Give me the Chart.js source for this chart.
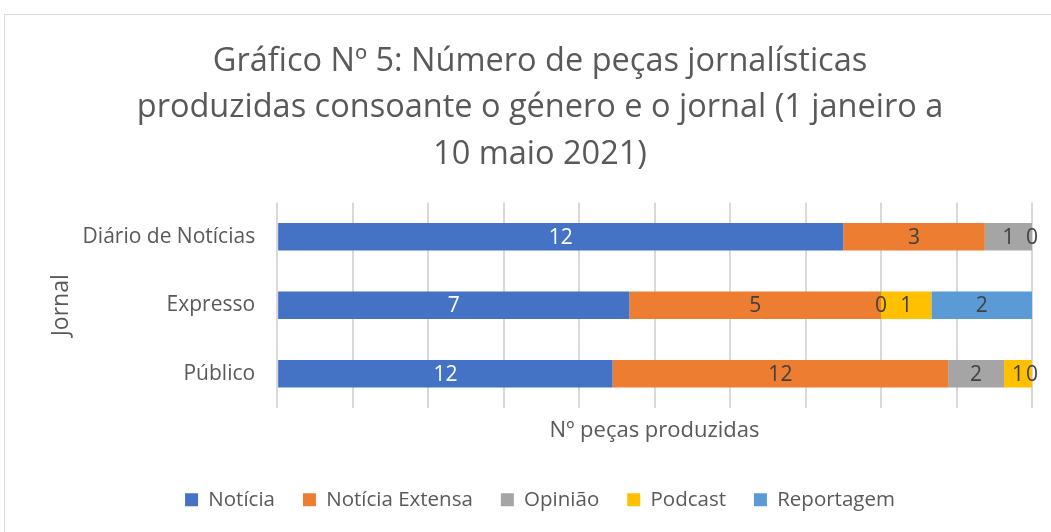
<!DOCTYPE html>
<html lang="pt">
<head>
    <meta charset="UTF-8">
    <title>Gráfico Nº 5</title>
    <script src="https://cdn.jsdelivr.net/npm/chart.js@4.4.0/dist/chart.umd.min.js"></script>
    <style>
        html, body {
            margin: 0;
            padding: 0;
            background: white;
        }
        .chart-container {
            position: relative;
            width: 1051px;
            height: 532px;
        }
    </style>
</head>
<body>
    <div class="chart-container">
        <canvas id="pecasChart"></canvas>
    </div>

    <script>
        const jornais = ['Diário de Notícias', 'Expresso', 'Público'];
        const generos = ['Notícia', 'Notícia Extensa', 'Opinião', 'Podcast', 'Reportagem'];

        // contagens por género (ordem: Diário de Notícias, Expresso, Público)
        const noticia = [12, 7, 12];
        const noticiaExtensa = [3, 5, 12];
        const opiniao = [1, 0, 2];
        const podcast = [0, 1, 1];
        const reportagem = [null, 2, 0];

        const cores = ['#4472C4', '#ED7D31', '#A5A5A5', '#FFC000', '#5B9BD5'];
        const series = [noticia, noticiaExtensa, opiniao, podcast, reportagem];

        const totais = jornais.map((_, i) => series.reduce((s, arr) => s + (arr[i] || 0), 0));

        const textFont = "'Open Sans', 'Noto Sans', sans-serif";
        const textColor = '#595959';

        // frame round the chart
        const framePlugin = {
            id: 'frame',
            beforeDraw(chart) {
                const ctx = chart.ctx;
                ctx.save();
                ctx.strokeStyle = '#d9d9d9';
                ctx.lineWidth = 1;
                ctx.strokeRect(4.5, 14.5, 1200, 600);
                ctx.restore();
            }
        };

        // value labels in the middle of each segment
        const labelsPlugin = {
            id: 'segLabels',
            afterDatasetsDraw(chart) {
                const ctx = chart.ctx;
                ctx.save();
                ctx.font = "21px " + textFont;
                ctx.textAlign = 'center';
                ctx.textBaseline = 'middle';
                chart.data.datasets.forEach((ds, di) => {
                    const meta = chart.getDatasetMeta(di);
                    meta.data.forEach((bar, i) => {
                        const count = ds.counts[i];
                        if (count === null || count === undefined) return;
                        ctx.fillStyle = di === 0 ? '#ffffff' : '#404040';
                        ctx.fillText(String(count), (bar.x + bar.base) / 2, bar.y + 1);
                    });
                });
                ctx.restore();
            }
        };

        const ctx = document.getElementById('pecasChart').getContext('2d');
        new Chart(ctx, {
            type: 'bar',
            data: {
                labels: jornais,
                datasets: generos.map((g, k) => ({
                    label: g,
                    counts: series[k],
                    data: series[k].map((v, i) => v === null ? null : v / totais[i]),
                    backgroundColor: cores[k],
                    borderWidth: 0,
                    categoryPercentage: 1,
                    barPercentage: 0.4
                }))
            },
            options: {
                indexAxis: 'y',
                responsive: true,
                maintainAspectRatio: false,
                animation: false,
                layout: {
                    padding: { left: 48, right: 19, top: 0, bottom: 12 }
                },
                plugins: {
                    title: {
                        display: true,
                        text: [
                            'Gráfico Nº 5: Número de peças jornalísticas',
                            'produzidas consoante o género e o jornal (1 janeiro a',
                            '10 maio 2021)'
                        ],
                        color: textColor,
                        font: { family: textFont, size: 32.5, weight: 'normal', lineHeight: 1.42 },
                        padding: { top: 39, bottom: 25 }
                    },
                    legend: {
                        position: 'bottom',
                        labels: {
                            color: textColor,
                            font: { family: textFont, size: 20.5 },
                            boxWidth: 13,
                            boxHeight: 13,
                            padding: 28
                        }
                    },
                    tooltip: { enabled: false }
                },
                scales: {
                    x: {
                        stacked: true,
                        min: 0,
                        max: 1,
                        ticks: { display: false, stepSize: 0.1 },
                        grid: { color: '#d9d9d9', lineWidth: 2, drawTicks: false },
                        border: { display: false },
                        title: {
                            display: true,
                            text: 'Nº peças produzidas',
                            color: textColor,
                            font: { family: textFont, size: 22 },
                            padding: { top: 9, bottom: 18 }
                        }
                    },
                    y: {
                        stacked: true,
                        ticks: {
                            color: textColor,
                            font: { family: textFont, size: 21 },
                            padding: 22
                        },
                        grid: { display: false, drawTicks: false },
                        border: { display: false },
                        title: {
                            display: true,
                            text: 'Jornal',
                            color: textColor,
                            font: { family: textFont, size: 23 },
                            padding: { top: 0, bottom: -15 }
                        }
                    }
                }
            },
            plugins: [framePlugin, labelsPlugin]
        });
    </script>
</body>
</html>
